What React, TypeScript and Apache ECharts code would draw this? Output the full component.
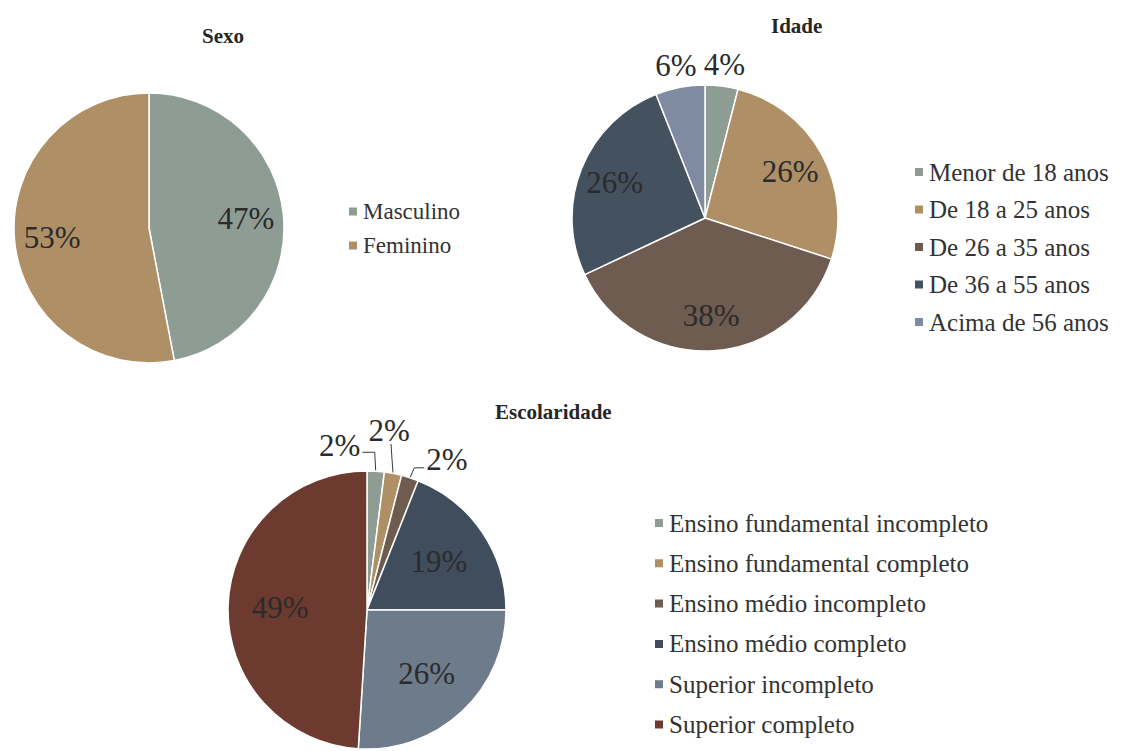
import React, { useEffect, useRef } from 'react';
import * as echarts from 'echarts';

// ---- Data ----
const sexoCategories = ['Masculino', 'Feminino'];
const sexoValues = [47, 53];

const idadeCategories = [
  'Menor de 18 anos',
  'De 18 a 25 anos',
  'De 26 a 35 anos',
  'De 36 a 55 anos',
  'Acima de 56 anos',
];
const idadeValues = [4, 26, 38, 26, 6];

const escolaridadeCategories = [
  'Ensino fundamental incompleto',
  'Ensino fundamental completo',
  'Ensino médio incompleto',
  'Ensino médio completo',
  'Superior incompleto',
  'Superior completo',
];
const escolaridadeValues = [2, 2, 2, 19, 26, 49];

// ---- Styles ----
const sexoColors = ['#8E9D94', '#AE8F66'];
const idadeColors = ['#8E9D94', '#AE8F66', '#6F5C50', '#44515F', '#7E8BA0'];
const escolaridadeColors = ['#8E9D94', '#AE8F66', '#6F5C50', '#3F4D5C', '#6E7B8B', '#6C3A2F'];

const FONT = 'Liberation Serif';
const LABEL_COLOR = '#2b2b2b';
const SMALL_LIMIT = 10;

type OutsideMode = 'none' | 'plain' | 'line';

function pieSeries(
  name: string,
  cats: string[],
  vals: number[],
  colors: string[],
  center: [number, number],
  radius: number,
  insideFactor: number,
  outsideMode: OutsideMode,
  outsideOffsets: number[][] = []
) {
  const smallIdx: number[] = [];
  vals.forEach((v, i) => {
    if (v < SMALL_LIMIT) smallIdx.push(i);
  });
  return {
    type: 'pie',
    name,
    center,
    radius: [0, radius],
    startAngle: 90,
    clockwise: true,
    avoidLabelOverlap: false,
    itemStyle: { borderColor: '#ffffff', borderWidth: 1.5 },
    label: {
      show: true,
      formatter: '{c}%',
      fontFamily: FONT,
      fontSize: 31,
      color: LABEL_COLOR,
    },
    labelLine: {
      lineStyle: { color: '#3a3a3a', width: 1 },
    },
    data: cats.map((c, i) => {
      const small = vals[i] < SMALL_LIMIT && outsideMode !== 'none';
      return {
        name: c,
        value: vals[i],
        itemStyle: { color: colors[i] },
        label: { position: small ? 'outside' : 'inside' },
        labelLine: {
          show: small && outsideMode === 'line',
          length: 22,
          length2: 0,
        },
      };
    }),
    labelLayout: (p: any) => {
      const small = vals[p.dataIndex] < SMALL_LIMIT && outsideMode !== 'none';
      const [cx, cy] = center;
      if (!small) {
        const lx = p.labelRect.x + p.labelRect.width / 2;
        const ly = p.labelRect.y + p.labelRect.height / 2;
        return {
          x: cx + (lx - cx) * 2 * insideFactor,
          y: cy + (ly - cy) * 2 * insideFactor,
          align: 'center',
          verticalAlign: 'middle',
        };
      }
      const pts = p.labelLinePoints;
      if (!pts) return {};
      if (outsideMode === 'plain') {
        return { x: pts[1][0], y: pts[1][1], align: 'center', verticalAlign: 'middle' };
      }
      const k = smallIdx.indexOf(p.dataIndex);
      const off = outsideOffsets[k] || [0, -30];
      const ax = pts[0][0];
      const ay = pts[0][1];
      const lx = ax + off[0];
      const ly = ay + off[1];
      const hw = p.labelRect.width / 2;
      const hh = p.labelRect.height / 2;
      let line: number[][];
      if (off[0] < -hw) {
        line = [[ax, ay], [ax - 1, ly + 7], [lx + hw + 2, ly + 7]];
      } else if (off[0] > hw * 0.5) {
        line = [[ax, ay], [lx - hw - 12, ly + 8], [lx - hw - 2, ly + 8]];
      } else {
        line = [[ax, ay], [ax - 1, (ay + ly + hh) / 2], [ax - 2, ly + hh - 2]];
      }
      return {
        x: lx,
        y: ly,
        align: 'center',
        verticalAlign: 'middle',
        labelLinePoints: line,
      };
    },
  };
}

function legendOf(cats: string[], left: number, top: number, gap: number, size: number) {
  return {
    data: cats,
    orient: 'vertical',
    left,
    top,
    icon: 'rect',
    itemWidth: 10,
    itemHeight: 10,
    itemGap: gap,
    padding: 0,
    selectedMode: false,
    textStyle: { fontFamily: FONT, fontSize: size, color: '#333333' },
  };
}

function titleOf(text: string, left: number, top: number) {
  return {
    text,
    left,
    top,
    padding: 0,
    textStyle: { fontFamily: FONT, fontSize: 21, fontWeight: 'bold', color: '#262626' },
  };
}

export default function App() {
  const ref = useRef<HTMLDivElement>(null);

  useEffect(() => {
    document.body.style.margin = '0';
    if (!ref.current) return;
    const chart = echarts.init(ref.current, undefined, { renderer: 'svg' });
    chart.setOption({
      animation: false,
      backgroundColor: '#ffffff',
      textStyle: { fontFamily: FONT },
      title: [
        titleOf('Sexo', 202, 25),
        titleOf('Idade', 771, 15),
        titleOf('Escolaridade', 495, 401),
      ],
      legend: [
        legendOf(sexoCategories, 347, 200, 11, 23),
        legendOf(idadeCategories, 913, 159.5, 12.5, 25),
        legendOf(escolaridadeCategories, 653, 510.5, 15.3, 25),
      ],
      series: [
        pieSeries('Sexo', sexoCategories, sexoValues, sexoColors, [149, 228], 135, 0.69, 'none'),
        pieSeries('Idade', idadeCategories, idadeValues, idadeColors, [705, 218], 133, 0.7, 'plain'),
        pieSeries(
          'Escolaridade',
          escolaridadeCategories,
          escolaridadeValues,
          escolaridadeColors,
          [367, 610],
          139,
          0.6,
          'line',
          [
            [-36, -26],
            [-4, -43],
            [37, -18],
          ]
        ),
      ],
    });
    return () => chart.dispose();
  }, []);

  return <div ref={ref} style={{ width: 1148, height: 751 }} />;
}
